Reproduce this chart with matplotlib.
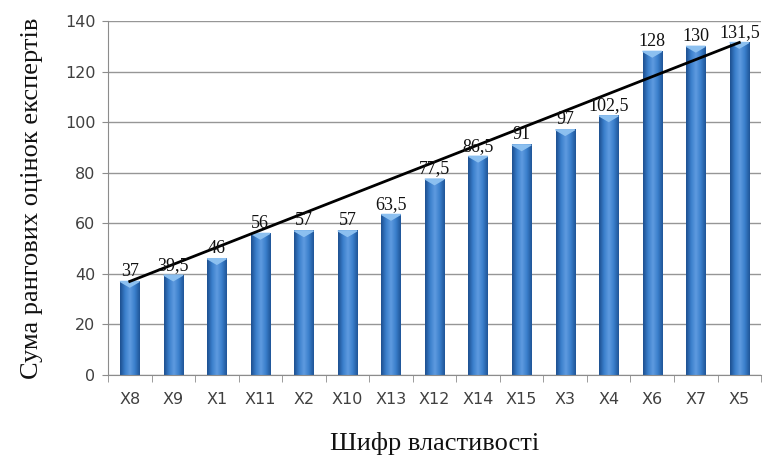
import numpy as np
import matplotlib.pyplot as plt
from matplotlib.colors import LinearSegmentedColormap

codes = ['X8', 'X9', 'X1', 'X11', 'X2', 'X10', 'X13', 'X12', 'X14', 'X15',
         'X3', 'X4', 'X6', 'X7', 'X5']
scores = [37, 39.5, 46, 56, 57, 57, 63.5, 77.5, 86.5, 91, 97, 102.5, 128, 130, 131.5]
score_labels = ['37', '39,5', '46', '56', '57', '57', '63,5', '77,5', '86,5', '91',
                '97', '102,5', '128', '130', '131,5']
y_ticks = [0, 20, 40, 60, 80, 100, 120, 140]

serif = ['Liberation Serif', 'DejaVu Serif']

fig = plt.figure(figsize=(7.68, 4.61), dpi=100)
ax = fig.add_axes([0.1406, 0.1866, 0.8504, 0.7678])

x = np.arange(len(codes))
bars = ax.bar(x, scores, width=0.44, color='#2f6db5', zorder=2)

# cylinder-like shading inside each bar
shade = LinearSegmentedColormap.from_list(
    'shade', ['#1d4f8f', '#3a7fcc', '#5f9be0', '#3a7fcc', '#1f5597'])
grad = np.linspace(0, 1, 64).reshape(1, -1)
for b in bars:
    x0, w, h = b.get_x(), b.get_width(), b.get_height()
    ax.imshow(grad, cmap=shade, aspect='auto', zorder=2.1,
              extent=(x0, x0 + w, 0, h), interpolation='bicubic')
    # lighter top cap
    ax.fill([x0, x0 + w, x0 + w / 2], [h, h, h - 2.2], color='#8cc0f0', zorder=2.2)

# line through first and last values
ax.plot([x[0], x[-1]], [scores[0], scores[-1]], color='black', lw=2, zorder=3)

for xi, v, s in zip(x, scores, score_labels):
    ax.text(xi, v + 0.6, s, ha='center', va='bottom', fontsize=13,
            family=serif, color='#111111', zorder=4)

ax.set_xlim(-0.5, len(codes) - 0.5)
ax.set_ylim(0, 140)
ax.set_yticks(y_ticks)
ax.set_xticks(x)
ax.set_xticklabels(codes)
ax.set_xticks(np.arange(-0.5, len(codes)), minor=True)
ax.tick_params(axis='x', which='major', length=0, pad=12, labelsize=11.5, labelcolor='#404040')
ax.tick_params(axis='x', which='minor', length=5, color='#8c8c8c', direction='out')
ax.tick_params(axis='y', length=4, color='#8c8c8c', labelsize=11.5, labelcolor='#404040', pad=5)
for lab in ax.get_xticklabels() + ax.get_yticklabels():
    lab.set_family(['Verdana', 'DejaVu Sans'])

ax.grid(axis='y', color='#969696', lw=1.0, zorder=0)
ax.set_axisbelow(True)
for side in ['top', 'right']:
    ax.spines[side].set_visible(False)
for side in ['left', 'bottom']:
    ax.spines[side].set_color('#8c8c8c')

ax.set_ylabel('Сума рангових оцінок експертів', fontsize=19, family=serif,
              color='#111111', labelpad=16)
ax.set_xlabel('Шифр властивості', fontsize=19, family=serif, color='#111111',
              labelpad=18)

fig.savefig('out.png', dpi=100)
